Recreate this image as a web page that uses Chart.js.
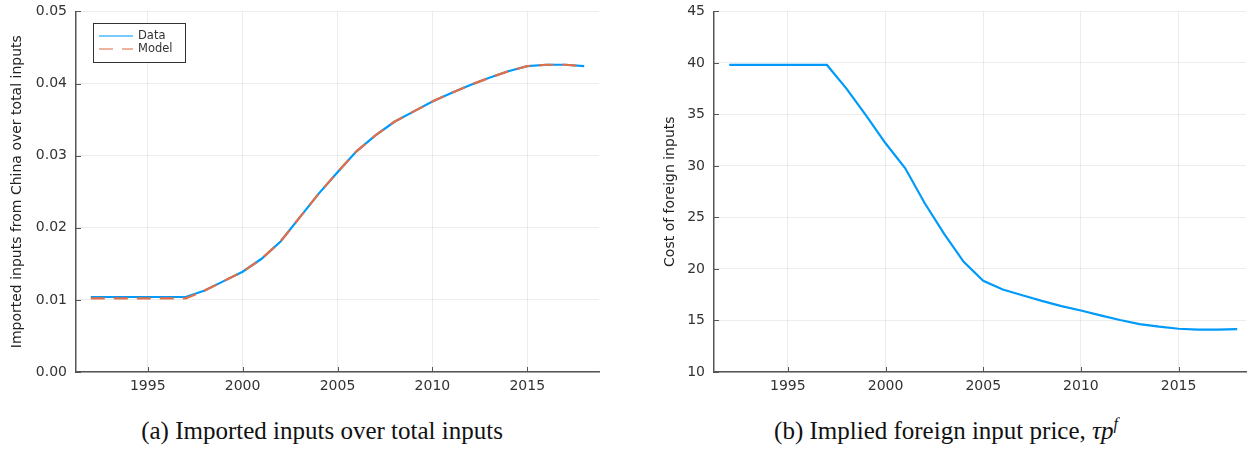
<!DOCTYPE html>
<html>
<head>
<meta charset="utf-8">
<script src="https://cdn.jsdelivr.net/npm/chart.js@4/dist/chart.umd.min.js"></script>
<style>
    body { margin: 0; background: #fff; width: 1254px; height: 451px; position: relative; overflow: hidden; }
    .box { position: absolute; top: -6px; height: 406px; }
    .caption { position: absolute; top: 416px; font-family: "Liberation Serif", "DejaVu Serif", serif; font-size: 25px; color: #111; transform: translateX(-50%); white-space: nowrap; line-height: 30px; }
    .sup { position: relative; top: -10px; font-size: 16px; line-height: 0; }
</style>
</head>
<body>
<div class="box" style="left:0; width:610px;"><canvas id="shareChart"></canvas></div>
<div class="box" style="left:640px; width:614px;"><canvas id="costChart"></canvas></div>
<div class="caption" style="left:322px;">(a) Imported inputs over total inputs</div>
<div class="caption" style="left:946px;">(b) Implied foreign input price, <i>τp<span class="sup">f</span></i></div>
<script>
const years = [1992, 1993, 1994, 1995, 1996, 1997, 1998, 1999, 2000, 2001, 2002, 2003, 2004, 2005,
    2006, 2007, 2008, 2009, 2010, 2011, 2012, 2013, 2014, 2015, 2016, 2017, 2018];

const shareData = [0.0104, 0.0104, 0.0104, 0.0104, 0.0104, 0.0104, 0.0113, 0.0126, 0.0139, 0.0157,
    0.0181, 0.0214, 0.0247, 0.0277, 0.0306, 0.0328, 0.0347, 0.0361, 0.0375, 0.0387, 0.0398,
    0.0408, 0.0417, 0.0424, 0.0426, 0.0426, 0.0424];
const shareModel = [0.0102, 0.0102, 0.0102, 0.0102, 0.0102, 0.0102, 0.0113, 0.0126, 0.0139, 0.0157,
    0.0181, 0.0214, 0.0247, 0.0277, 0.0306, 0.0328, 0.0347, 0.0361, 0.0375, 0.0387, 0.0398,
    0.0408, 0.0417, 0.0424, 0.0426, 0.0426, 0.0424];
const foreignCost = [39.8, 39.8, 39.8, 39.8, 39.8, 39.8, 37.5, 34.9, 32.2, 29.8, 26.4, 23.4, 20.7, 18.85,
    18.0, 17.45, 16.9, 16.4, 15.97, 15.5, 15.05, 14.65, 14.4, 14.2, 14.12, 14.12, 14.17];

const xTicks = [1995, 2000, 2005, 2010, 2015];
const shareTicks = [0, 0.01, 0.02, 0.03, 0.04, 0.05];
const costTicks = [10, 15, 20, 25, 30, 35, 40, 45];

const BLUE = '#009AFA';
const ORANGE = '#E26F46';
const AXIS = '#555';
const tickFont = { family: 'DejaVu Sans', size: 14 };

function points(values) {
    return years.map((y, i) => ({ x: y, y: values[i] }));
}

// Julia-style ticks pointing into the plot
const innerTicks = {
    id: 'innerTicks',
    afterDraw(chart) {
        const ctx = chart.ctx;
        const area = chart.chartArea;
        ctx.save();
        ctx.strokeStyle = AXIS;
        ctx.lineWidth = 1;
        chart.scales.x.ticks.forEach(t => {
            const px = Math.round(chart.scales.x.getPixelForValue(t.value)) + 0.5;
            ctx.beginPath();
            ctx.moveTo(px, area.bottom);
            ctx.lineTo(px, area.bottom - 5);
            ctx.stroke();
        });
        chart.scales.y.ticks.forEach(t => {
            const py = Math.round(chart.scales.y.getPixelForValue(t.value)) + 0.5;
            ctx.beginPath();
            ctx.moveTo(area.left, py);
            ctx.lineTo(area.left + 5, py);
            ctx.stroke();
        });
        ctx.restore();
    }
};

// small framed legend in the top left corner (canvas is shifted up 6px)
const boxLegend = {
    id: 'boxLegend',
    afterDraw(chart, args, opts) {
        if (!opts.show) return;
        const ctx = chart.ctx;
        const x0 = 93, y0 = 29, w = 92, h = 39;
        ctx.save();
        ctx.fillStyle = '#fff';
        ctx.fillRect(x0, y0, w, h);
        ctx.strokeStyle = '#333';
        ctx.lineWidth = 1;
        ctx.strokeRect(x0 + 0.5, y0 + 0.5, w, h);
        ctx.font = '11.5px "DejaVu Sans"';
        ctx.textBaseline = 'middle';
        chart.data.datasets.forEach((ds, i) => {
            const yy = y0 + 13 + i * 13;
            ctx.strokeStyle = ds.borderColor;
            ctx.globalAlpha = 0.7;
            ctx.lineWidth = 1.5;
            ctx.setLineDash(ds.borderDash || []);
            ctx.beginPath();
            ctx.moveTo(x0 + 6, yy);
            ctx.lineTo(x0 + 40, yy);
            ctx.stroke();
            ctx.setLineDash([]);
            ctx.globalAlpha = 1;
            ctx.fillStyle = '#333';
            ctx.fillText(ds.label, x0 + 45, yy);
        });
        ctx.restore();
    }
};

function makeOptions(yMin, yMax, yTickList, yTitle, fmt, titlePad, yWidth, padRight, xMax, legend) {
    return {
        responsive: true,
        maintainAspectRatio: false,
        animation: false,
        layout: { padding: { top: 5, right: padRight, bottom: 0, left: 0 } },
        plugins: { legend: { display: false }, tooltip: { enabled: false }, boxLegend: { show: legend } },
        elements: { point: { radius: 0 }, line: { tension: 0 } },
        scales: {
            x: {
                type: 'linear',
                min: 1991.22,
                max: xMax,
                afterBuildTicks: s => { s.ticks = xTicks.map(v => ({ value: v })); },
                afterFit: s => { s.height = 28; },
                grid: { color: 'rgba(0,0,0,0.07)', drawTicks: false },
                border: { color: AXIS, width: 1.5 },
                ticks: { color: '#333', font: tickFont, padding: 6, maxRotation: 0, callback: v => String(v) }
            },
            y: {
                min: yMin,
                max: yMax,
                afterBuildTicks: s => { s.ticks = yTickList.map(v => ({ value: v })); },
                afterFit: s => { s.width = yWidth; },
                grid: { color: 'rgba(0,0,0,0.07)', drawTicks: false },
                border: { color: AXIS, width: 1.5 },
                ticks: { color: '#333', font: tickFont, padding: 9, callback: fmt },
                title: { display: true, text: yTitle, color: '#222', font: { family: 'DejaVu Sans', size: 14 }, padding: { top: titlePad, bottom: 0 } }
            }
        }
    };
}

new Chart(document.getElementById('shareChart'), {
    type: 'line',
    data: {
        datasets: [
            { label: 'Data', data: points(shareData), borderColor: BLUE, borderWidth: 2.2, order: 1 },
            { label: 'Model', data: points(shareModel), borderColor: ORANGE, borderWidth: 2.2, borderDash: [14, 9], order: 0 }
        ]
    },
    options: makeOptions(0, 0.05, shareTicks, 'Imported inputs from China over total inputs',
        v => v.toFixed(2), 9, 76, 11, 2018.78, true),
    plugins: [innerTicks, boxLegend]
});

new Chart(document.getElementById('costChart'), {
    type: 'line',
    data: {
        datasets: [
            { label: 'Data', data: points(foreignCost), borderColor: BLUE, borderWidth: 2.2 }
        ]
    },
    options: makeOptions(10, 45, costTicks, 'Cost of foreign inputs',
        v => String(v), 22, 74, 8, 2018.45, false),
    plugins: [innerTicks, boxLegend]
});
</script>
</body>
</html>
